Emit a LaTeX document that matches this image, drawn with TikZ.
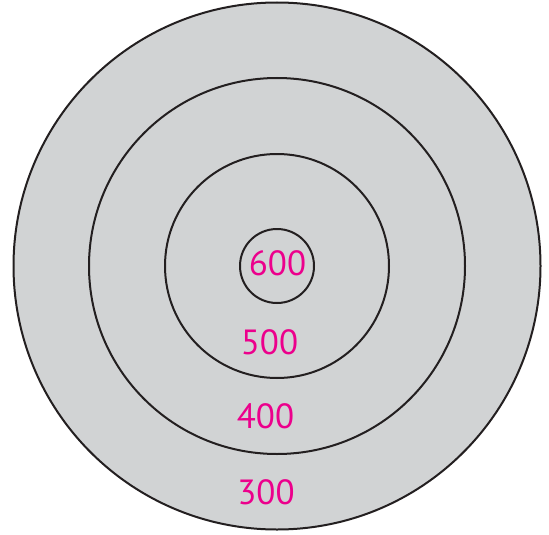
\documentclass[tikz,border=0pt]{standalone}
\usepackage{fontspec}
\setsansfont{PT Sans}
\usepackage{xcolor}
\usetikzlibrary{positioning}
\definecolor{ringgray}{HTML}{D1D3D4}
\definecolor{ringline}{HTML}{231F20}
\definecolor{labelpink}{HTML}{EC008C}

\begin{document}
\begin{tikzpicture}[x=1pt, y=-1pt,
  ring/.style={circle, draw=ringline, line width=2pt, inner sep=0pt},
  val/.style={font=\sffamily\fontsize{35}{35}\selectfont, text=labelpink, inner sep=0pt}
]
\useasboundingbox (0,0) rectangle (549,535);
\coordinate (ctr) at (277,266);
% rings, outside in
\node[ring, fill=ringgray, minimum size=527pt] (r300) at (ctr) {};
\node[ring, minimum size=376pt] (r400) at (ctr) {};
\node[ring, minimum size=224pt] (r500) at (ctr) {};
\node[ring, minimum size=74pt] (r600) at (ctr) {};

\node[val] (v600) at (277.5,263.5) {600};
\node[val] (v500) at (269.5,342.5) {500};
\node[val] (v400) at (265.5,416) {400};
\node[val] (v300) at (266,492) {300};
\end{tikzpicture}
\end{document}
